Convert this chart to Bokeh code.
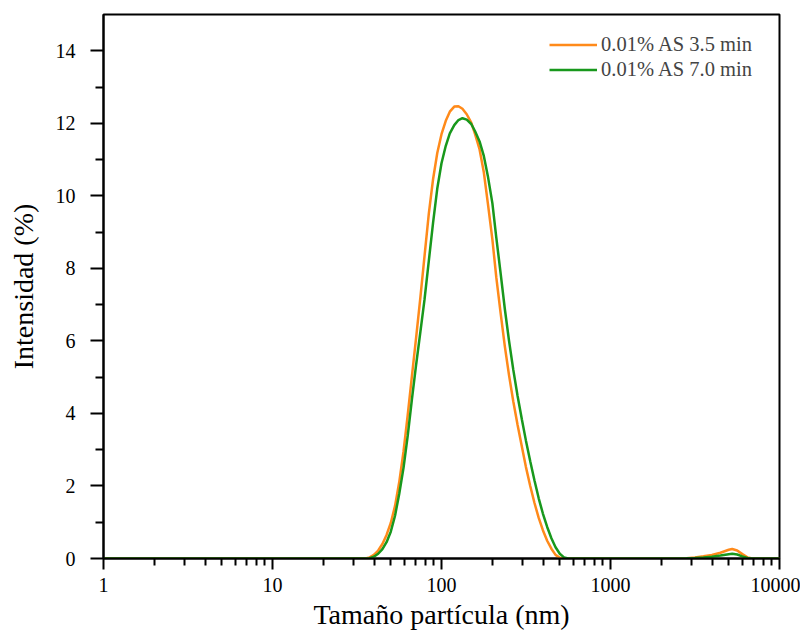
from bokeh.plotting import figure
from bokeh.models import FixedTicker, Legend, LegendItem
from bokeh.embed import file_html
from bokeh.resources import INLINE

# ---- data ----
size_nm = [1, 35.5, 37.6, 39.8, 42.2, 44.7, 47.3, 50.1, 53.1, 56.2, 59.6, 63.1, 66.8,
           70.8, 75.0, 79.4, 84.1, 89.1, 94.4, 100, 106, 112, 119, 126, 133, 141,
           150, 158, 168, 178, 188, 200, 211, 224, 237, 251, 266, 282, 299, 316,
           335, 355, 376, 398, 422, 447, 473, 501, 531, 562,
           2510, 2820, 3160, 3550, 3980, 4470, 5010, 5250, 5620, 6030, 6460, 6920, 10000]

as_35_min = [0, 0, 0.03, 0.10, 0.22, 0.40, 0.65, 0.98, 1.45, 2.10, 2.95, 3.95, 5.02,
             6.10, 7.20, 8.35, 9.50, 10.45, 11.18, 11.70, 12.07, 12.32, 12.46, 12.47, 12.40, 12.25,
             12.02, 11.70, 11.28, 10.65, 9.80, 8.80, 7.75, 6.75, 5.85, 5.05, 4.33, 3.68, 3.08, 2.52,
             2.00, 1.53, 1.12, 0.78, 0.49, 0.27, 0.10, 0.02, 0, 0,
             0, 0.01, 0.03, 0.06, 0.10, 0.16, 0.24, 0.26, 0.22, 0.12, 0.03, 0, 0]

as_70_min = [0, 0, 0.01, 0.05, 0.13, 0.26, 0.45, 0.74, 1.18, 1.78, 2.50, 3.38, 4.38,
             5.35, 6.25, 7.15, 8.20, 9.25, 10.20, 10.90, 11.38, 11.72, 11.95, 12.09, 12.14, 12.10,
             11.98, 11.78, 11.50, 11.10, 10.55, 9.80, 8.85, 7.85, 6.88, 6.00, 5.20, 4.48, 3.83, 3.25,
             2.68, 2.15, 1.66, 1.24, 0.87, 0.56, 0.31, 0.13, 0.03, 0,
             0, 0.005, 0.015, 0.03, 0.05, 0.08, 0.12, 0.13, 0.11, 0.06, 0.015, 0, 0]

series_names = ["0.01% AS 3.5 min", "0.01% AS 7.0 min"]
x_ticks = [1, 10, 100, 1000, 10000]
x_tick_labels = ["1", "10", "100", "1000", "10000"]
y_ticks = [0, 2, 4, 6, 8, 10, 12, 14]
y_minor = [1, 3, 5, 7, 9, 11, 13]

FONT = "Liberation Serif"
ORANGE = "#FF8A1A"
GREEN = "#18981C"

p = figure(width=800, height=638, x_axis_type="log", x_range=(1, 10000), y_range=(0, 15),
           output_backend="svg", toolbar_location=None,
           min_border_left=103, min_border_right=21, min_border_top=14, min_border_bottom=80)

r1 = p.line(size_nm, as_35_min, line_color=ORANGE, line_width=2.5)
r2 = p.line(size_nm, as_70_min, line_color=GREEN, line_width=2.5)

p.xgrid.visible = False
p.ygrid.visible = False
p.background_fill_color = "white"
p.outline_line_color = "black"
p.outline_line_width = 2
p.outline_line_alpha = 1

minor_x = [m * d for d in (1, 10, 100, 1000) for m in range(2, 10)]
p.xaxis.ticker = FixedTicker(ticks=x_ticks, minor_ticks=minor_x)
p.xaxis.major_label_overrides = {t: l for t, l in zip(x_ticks, x_tick_labels)}
p.yaxis.ticker = FixedTicker(ticks=y_ticks, minor_ticks=y_minor)

for ax in (p.xaxis, p.yaxis):
    ax.axis_line_width = 2
    ax.axis_line_color = "black"
    ax.major_tick_line_width = 2
    ax.minor_tick_line_width = 2
    ax.major_tick_line_color = "black"
    ax.minor_tick_line_color = "black"
    ax.major_tick_in = 0
    ax.minor_tick_in = 0
    ax.major_label_text_font = FONT
    ax.major_label_text_font_size = "20px"
    ax.major_label_text_color = "black"
    ax.axis_label_text_font = FONT
    ax.axis_label_text_font_size = "28px"
    ax.axis_label_text_font_style = "normal"
    ax.axis_label_text_color = "black"

p.xaxis.major_tick_out = 11
p.xaxis.minor_tick_out = 7
p.yaxis.major_tick_out = 13
p.yaxis.minor_tick_out = 8

p.xaxis.axis_label = "Tamaño partícula (nm)"
p.yaxis.axis_label = "Intensidad (%)"
p.xaxis.major_label_standoff = 8
p.yaxis.major_label_standoff = 15
p.xaxis.axis_label_standoff = 4
p.yaxis.axis_label_standoff = 14

legend = Legend(items=[LegendItem(label=series_names[0], renderers=[r1]),
                       LegendItem(label=series_names[1], renderers=[r2])],
                location=(446, 476), border_line_color=None, background_fill_alpha=0,
                label_text_font=FONT, label_text_font_size="20.5px",
                glyph_width=48, glyph_height=25, label_height=25, label_standoff=4,
                spacing=0, margin=0, padding=6)
p.add_layout(legend, "center")

open("out.html", "w").write(file_html(p, INLINE))
